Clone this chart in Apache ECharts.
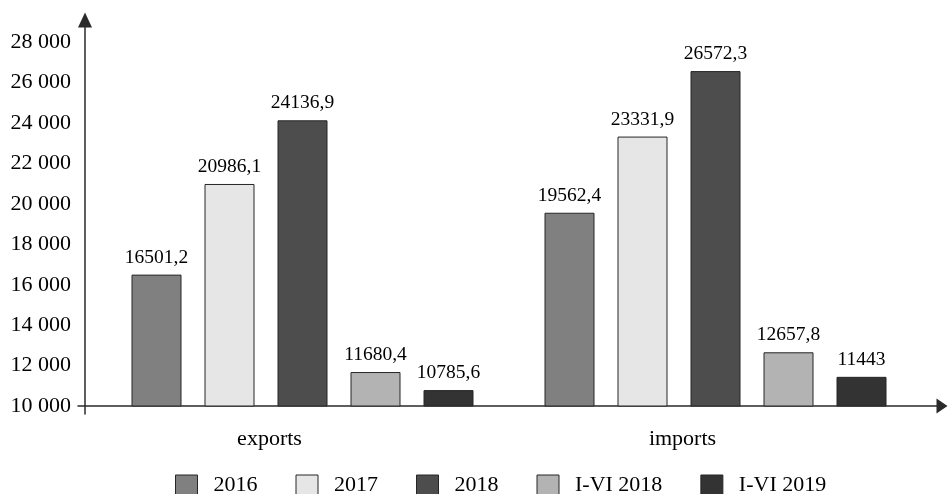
<!DOCTYPE html>
<html>
<head>
<meta charset="utf-8">
<script src="https://cdn.jsdelivr.net/npm/echarts@6/dist/echarts.min.js"></script>
<style>
html,body{margin:0;padding:0;background:#fff;}
#chart{width:948px;height:494px;}
</style>
</head>
<body>
<div id="chart"></div>
<script>
const categories = ['exports', 'imports'];
const seriesNames = ['2016', '2017', '2018', 'I-VI 2018', 'I-VI 2019'];
const values2016 = [16501.2, 19562.4];
const values2017 = [20986.1, 23331.9];
const values2018 = [24136.9, 26572.3];
const valuesH1_2018 = [11680.4, 12657.8];
const valuesH1_2019 = [10785.6, 11443];
const yTickValues = [10000, 12000, 14000, 16000, 18000, 20000, 22000, 24000, 26000, 28000];
const seriesColors = ['#808080', '#e6e6e6', '#4d4d4d', '#b3b3b3', '#333333'];

const allValues = [values2016, values2017, values2018, valuesH1_2018, valuesH1_2019];
const FONT = '"Liberation Serif", "Times New Roman", serif';

const fmtThousands = v => String(v).replace(/\B(?=(\d{3})+(?!\d))/g, ' ');
const fmtComma = v => String(v).replace('.', ',');

const chart = echarts.init(document.getElementById('chart'), null, {renderer: 'canvas'});

const series = seriesNames.map((name, i) => ({
  name: name,
  type: 'bar',
  xAxisIndex: 0,
  yAxisIndex: 0,
  data: allValues[i],
  barWidth: 50,
  barGap: '46%',
  barCategoryGap: '17%',
  itemStyle: {color: seriesColors[i], borderColor: '#262626', borderWidth: 1},
  label: {
    show: true,
    position: 'top',
    distance: 7,
    color: '#000',
    fontFamily: FONT,
    fontSize: 19.5,
    formatter: p => fmtComma(p.value)
  }
}));

chart.setOption({
  animation: false,
  backgroundColor: '#ffffff',
  textStyle: {fontFamily: FONT},
  grid: [
    {left: 96, right: 26, top: 20, bottom: 88},
    {left: 78, right: 6, top: 20, bottom: 88},
    {left: 85, width: 1, top: 20, bottom: 80}
  ],
  legend: {
    data: seriesNames,
    left: 175,
    top: 474,
    padding: 0,
    itemWidth: 22,
    itemHeight: 20,
    itemGap: 38,
    icon: 'rect',
    itemStyle: {borderColor: '#262626', borderWidth: 1},
    textStyle: {fontFamily: FONT, fontSize: 22, color: '#000', padding: [0, 0, 0, 11]}
  },
  xAxis: [
    {
      gridIndex: 0,
      type: 'category',
      data: categories,
      axisLine: {show: false},
      axisTick: {show: false},
      axisLabel: {
        color: '#000',
        fontFamily: FONT,
        fontSize: 22,
        margin: 22,
        padding: [0, 66, 0, 0]
      }
    },
    {
      gridIndex: 1,
      type: 'value',
      min: 0,
      max: 1,
      axisLine: {
        show: true,
        onZero: false,
        symbol: ['none', 'triangle'],
        symbolSize: [15, 11],
        lineStyle: {color: '#2a2a2a', width: 1.5}
      },
      axisTick: {show: false},
      axisLabel: {show: false},
      splitLine: {show: false}
    },
    {
      gridIndex: 2,
      type: 'value',
      show: false
    }
  ],
  yAxis: [
    {
      gridIndex: 0,
      type: 'value',
      min: 10000,
      max: 29100,
      interval: 2000,
      offset: 11,
      axisLine: {show: false},
      axisTick: {show: false},
      splitLine: {show: false},
      axisLabel: {
        color: '#000',
        fontFamily: FONT,
        fontSize: 22,
        margin: 14,
        customValues: yTickValues,
        formatter: v => (yTickValues.indexOf(v) >= 0 ? fmtThousands(v) : '')
      }
    },
    {
      gridIndex: 1,
      type: 'value',
      show: false
    },
    {
      gridIndex: 2,
      type: 'value',
      min: 0,
      max: 1,
      axisLine: {
        show: true,
        onZero: false,
        symbol: ['none', 'triangle'],
        symbolSize: [14, 15],
        lineStyle: {color: '#2a2a2a', width: 1.5}
      },
      axisTick: {show: false},
      axisLabel: {show: false},
      splitLine: {show: false}
    }
  ],
  series: series
});
</script>
</body>
</html>
